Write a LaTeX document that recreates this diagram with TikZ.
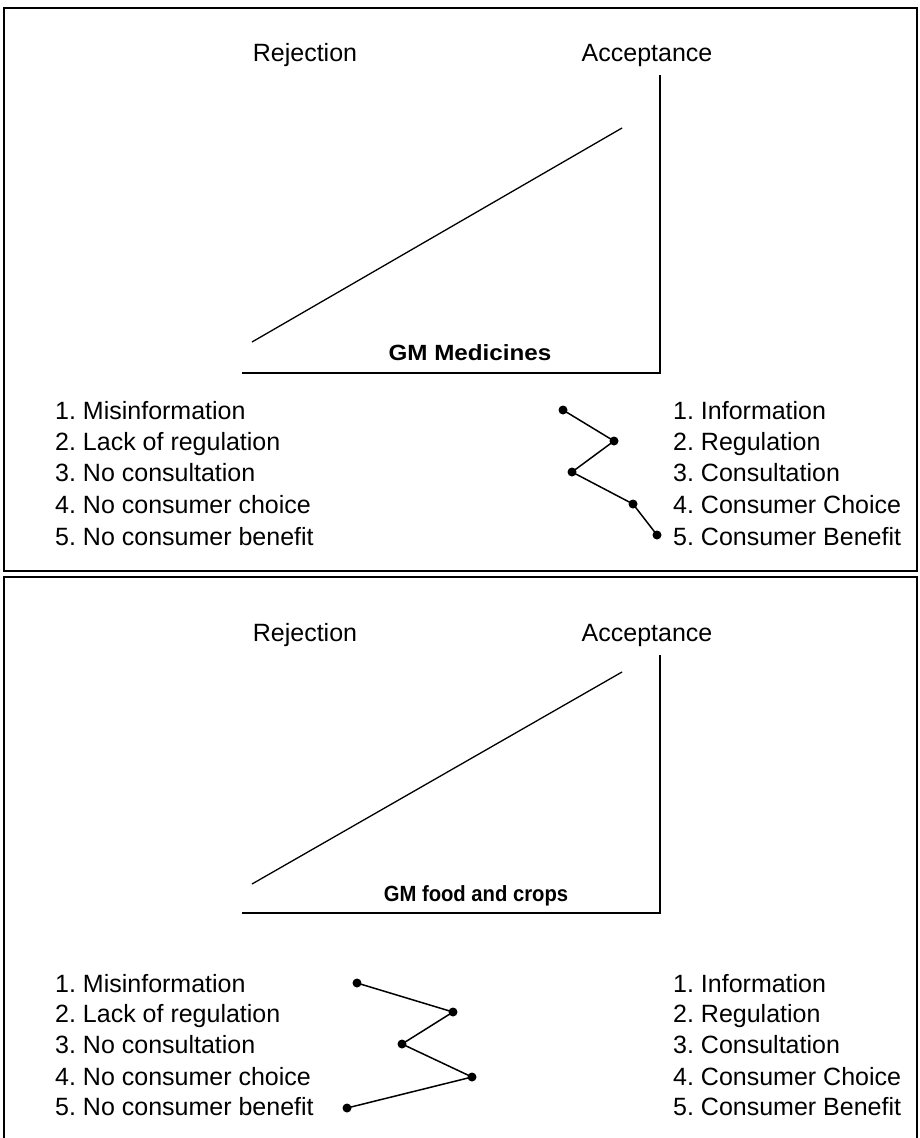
\documentclass[tikz,border=0pt]{standalone}
\usepackage{fontspec}
\setmainfont{Liberation Sans}
\frenchspacing
\begin{document}
\frenchspacing
\begin{tikzpicture}[x=1pt,y=-1pt,
  lbl/.style={font=\fontsize{25}{25}\selectfont, inner sep=0pt, anchor=west, text height=18pt, text depth=0pt},
  head/.style={font=\fontsize{25}{25}\selectfont, inner sep=0pt, text height=18pt, text depth=0pt},
  ttl/.style={font=\bfseries\fontsize{22}{22}\selectfont, inner sep=0pt, text height=16pt, text depth=0pt},
  dot/.style={circle, fill=black, inner sep=0pt, minimum size=9pt},
  frame/.style={line width=2pt},
  axis/.style={line width=1.8pt},
  diag/.style={line width=1.3pt},
  zz/.style={line width=1.5pt}]
\useasboundingbox (0,0) rectangle (920,1138);
\fill[white] (0,0) rectangle (920,1138);
% frames
\draw[frame] (4,8) rectangle (917,571);
\draw[frame] (4,1140) -- (4,577) -- (917,577) -- (917,1140);

% ===== top panel =====
\node[head] (rej1) at (305,52) {Rejection};
\node[head] (acc1) at (647,52) {Acceptance};
\coordinate (v1t) at (660,75);
\coordinate (v1b) at (660,373);
\coordinate (h1l) at (242,373);
\coordinate (d1a) at (252,342);
\coordinate (d1b) at (622,128);
\draw[axis] (v1t) -- (v1b) -- (h1l);
\draw[diag] (d1a) -- (d1b);
\node[ttl] (gm1) at (470,352) {\scalebox{1.1}[1]{GM Medicines}};

\node[lbl] (l11) at (55,410) {1. Misinformation};
\node[lbl] (l12) at (55,441) {2. Lack of regulation};
\node[lbl] (l13) at (55,472) {3. No consultation};
\node[lbl] (l14) at (55,504) {4. No consumer choice};
\node[lbl] (l15) at (55,536) {5. No consumer benefit};

\node[lbl] (r11) at (673,410) {1. Information};
\node[lbl] (r12) at (673,441) {2. Regulation};
\node[lbl] (r13) at (673,472) {3. Consultation};
\node[lbl] (r14) at (673,504) {4. Consumer Choice};
\node[lbl] (r15) at (673,536) {5. Consumer Benefit};

\node[dot] (a1) at (563,410) {};
\node[dot] (a2) at (614,441) {};
\node[dot] (a3) at (572,472) {};
\node[dot] (a4) at (633,504) {};
\node[dot] (a5) at (657,535) {};
\draw[zz] (a1.center) -- (a2.center) -- (a3.center) -- (a4.center) -- (a5.center);

% ===== bottom panel =====
\node[head] (rej2) at (305,632) {Rejection};
\node[head] (acc2) at (647,632) {Acceptance};
\coordinate (v2t) at (660,655);
\coordinate (v2b) at (660,913);
\coordinate (h2l) at (242,913);
\coordinate (d2a) at (252,884);
\coordinate (d2b) at (622,672);
\draw[axis] (v2t) -- (v2b) -- (h2l);
\draw[diag] (d2a) -- (d2b);
\node[ttl] (gm2) at (476,893) {\scalebox{0.92}[1]{GM food and crops}};

\node[lbl] (l21) at (55,983) {1. Misinformation};
\node[lbl] (l22) at (55,1013) {2. Lack of regulation};
\node[lbl] (l23) at (55,1044) {3. No consultation};
\node[lbl] (l24) at (55,1076) {4. No consumer choice};
\node[lbl] (l25) at (55,1106) {5. No consumer benefit};

\node[lbl] (r21) at (673,983) {1. Information};
\node[lbl] (r22) at (673,1013) {2. Regulation};
\node[lbl] (r23) at (673,1044) {3. Consultation};
\node[lbl] (r24) at (673,1076) {4. Consumer Choice};
\node[lbl] (r25) at (673,1106) {5. Consumer Benefit};

\node[dot] (b1) at (357,983) {};
\node[dot] (b2) at (453,1012) {};
\node[dot] (b3) at (402,1044) {};
\node[dot] (b4) at (472,1077) {};
\node[dot] (b5) at (347,1108) {};
\draw[zz] (b1.center) -- (b2.center) -- (b3.center) -- (b4.center) -- (b5.center);
\end{tikzpicture}
\end{document}
